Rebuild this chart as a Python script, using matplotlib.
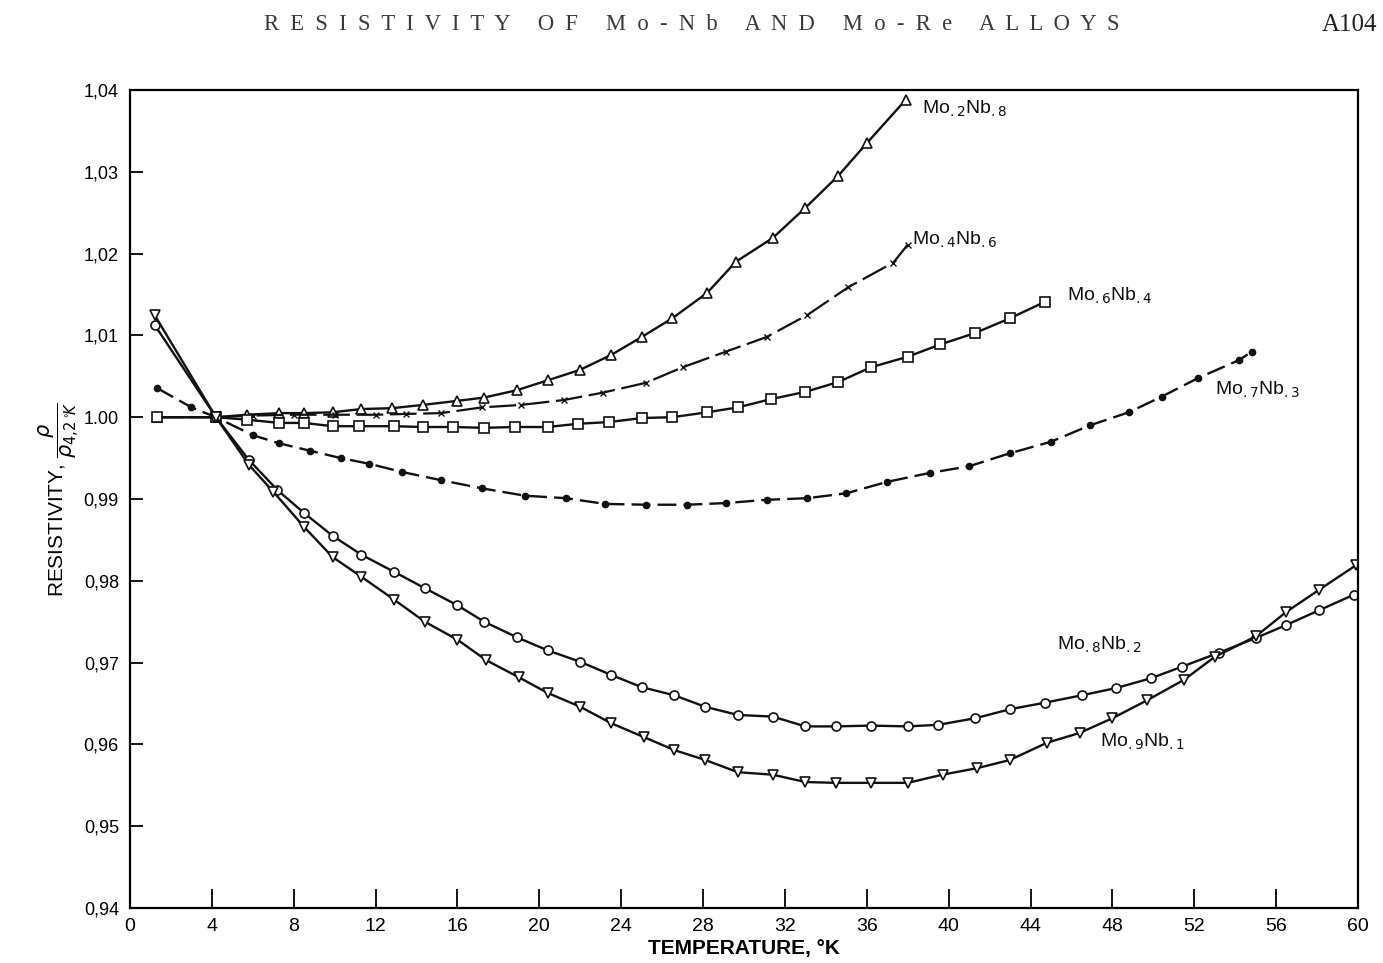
import matplotlib
matplotlib.use("Agg")
import matplotlib.pyplot as plt

plt.rcParams['font.family'] = ['Liberation Sans', 'DejaVu Sans']
plt.rcParams['mathtext.fontset'] = 'dejavusans'

# ---- data (T in K, rho / rho_4.2K) ----
T_28 = [1.3, 4.2, 5.7, 7.3, 8.5, 9.9, 11.3, 12.8, 14.3, 16.0, 17.3, 18.9, 20.4, 22.0,
        23.5, 25.0, 26.5, 28.2, 29.6, 31.4, 33.0, 34.6, 36.0, 37.9]
R_28 = [1.0000, 1.0000, 1.0003, 1.0005, 1.0005, 1.0006, 1.0010, 1.0011, 1.0015, 1.0020,
        1.0024, 1.0033, 1.0045, 1.0058, 1.0076, 1.0098, 1.0121, 1.0152, 1.0190, 1.0219,
        1.0256, 1.0295, 1.0335, 1.0388]

T_46 = [1.3, 4.2, 6.0, 8.0, 10.0, 12.0, 13.5, 15.2, 17.2, 19.1, 21.2, 23.1, 25.2, 27.0,
        29.1, 31.1, 33.1, 35.1, 37.3, 38.0]
R_46 = [1.0000, 1.0000, 1.0002, 1.0003, 1.0003, 1.0003, 1.0004, 1.0005, 1.0012, 1.0015,
        1.0021, 1.0030, 1.0042, 1.0061, 1.0080, 1.0098, 1.0125, 1.0159, 1.0189, 1.0211]

T_64 = [1.3, 4.2, 5.7, 7.3, 8.5, 9.9, 11.2, 12.9, 14.3, 15.8, 17.3, 18.8, 20.4, 21.9,
        23.4, 25.0, 26.5, 28.2, 29.7, 31.3, 33.0, 34.6, 36.2, 38.0, 39.6, 41.3, 43.0, 44.7]
R_64 = [1.0000, 1.0000, 0.9997, 0.9993, 0.9993, 0.9989, 0.9989, 0.9989, 0.9988, 0.9988,
        0.9987, 0.9988, 0.9988, 0.9992, 0.9994, 0.9999, 1.0000, 1.0006, 1.0012, 1.0022,
        1.0031, 1.0043, 1.0061, 1.0074, 1.0089, 1.0103, 1.0121, 1.0141]

T_73 = [1.3, 3.0, 4.2, 6.0, 7.3, 8.8, 10.3, 11.7, 13.3, 15.2, 17.2, 19.3, 21.3, 23.2,
        25.2, 27.2, 29.1, 31.1, 33.1, 35.0, 37.0, 39.1, 41.0, 43.0, 45.0, 46.9, 48.8,
        50.4, 52.2, 54.2, 54.8]
R_73 = [1.0036, 1.0012, 1.0000, 0.9978, 0.9968, 0.9959, 0.9950, 0.9943, 0.9933, 0.9923,
        0.9913, 0.9904, 0.9901, 0.9894, 0.9893, 0.9893, 0.9895, 0.9899, 0.9901, 0.9907,
        0.9921, 0.9932, 0.9940, 0.9956, 0.9970, 0.9990, 1.0006, 1.0025, 1.0048, 1.0070,
        1.0080]

T_82 = [1.2, 4.2, 5.8, 7.2, 8.5, 9.9, 11.3, 12.9, 14.4, 16.0, 17.3, 18.9, 20.4, 22.0,
        23.5, 25.0, 26.6, 28.1, 29.7, 31.4, 33.0, 34.5, 36.2, 38.0, 39.5, 41.3, 43.0,
        44.7, 46.5, 48.2, 49.9, 51.4, 53.2, 55.0, 56.5, 58.1, 59.8]
R_82 = [1.0113, 1.0000, 0.9948, 0.9911, 0.9883, 0.9855, 0.9832, 0.9811, 0.9791, 0.9770,
        0.9750, 0.9731, 0.9715, 0.9701, 0.9685, 0.9670, 0.9660, 0.9646, 0.9636, 0.9634,
        0.9622, 0.9622, 0.9623, 0.9622, 0.9624, 0.9632, 0.9643, 0.9651, 0.9660, 0.9669,
        0.9681, 0.9695, 0.9712, 0.9730, 0.9746, 0.9764, 0.9783]

T_91 = [1.2, 4.2, 5.8, 7.0, 8.5, 9.9, 11.3, 12.9, 14.4, 16.0, 17.4, 19.0, 20.4, 22.0,
        23.5, 25.1, 26.6, 28.1, 29.7, 31.4, 33.0, 34.5, 36.2, 38.0, 39.7, 41.4, 43.0,
        44.8, 46.4, 48.0, 49.7, 51.5, 53.0, 55.0, 56.5, 58.1, 59.9]
R_91 = [1.0125, 1.0000, 0.9942, 0.9909, 0.9866, 0.9829, 0.9805, 0.9777, 0.9750, 0.9728,
        0.9703, 0.9682, 0.9663, 0.9646, 0.9626, 0.9609, 0.9593, 0.9581, 0.9566, 0.9563,
        0.9554, 0.9553, 0.9553, 0.9553, 0.9563, 0.9571, 0.9581, 0.9602, 0.9614, 0.9632,
        0.9654, 0.9679, 0.9707, 0.9732, 0.9762, 0.9789, 0.9819]

labels = [r'Mo$_{.2}$Nb$_{.8}$', r'Mo$_{.4}$Nb$_{.6}$', r'Mo$_{.6}$Nb$_{.4}$',
          r'Mo$_{.7}$Nb$_{.3}$', r'Mo$_{.8}$Nb$_{.2}$', r'Mo$_{.9}$Nb$_{.1}$']
label_T = [38.7, 38.2, 45.8, 53.0, 45.3, 47.4]
label_R = [1.0377, 1.0217, 1.0148, 1.0033, 0.9722, 0.9603]

x_ticks = [0, 4, 8, 12, 16, 20, 24, 28, 32, 36, 40, 44, 48, 52, 56, 60]
y_ticks = [0.94, 0.95, 0.96, 0.97, 0.98, 0.99, 1.00, 1.01, 1.02, 1.03, 1.04]
y_tick_labels = ['0,94', '0,95', '0,96', '0,97', '0,98', '0,99', '1.00', '1,01', '1,02', '1,03', '1,04']

fig = plt.figure(figsize=(13.83, 9.63), dpi=100)
ax = fig.add_axes([130/1383, 1 - 908/963, 1228/1383, 818/963])

k = '#111111'
ax.plot(T_28, R_28, color=k, lw=1.7, marker='^', ms=7, mfc='white', mec=k, mew=1.2)
ax.plot(T_46, R_46, color=k, lw=1.6, ls=(0, (12, 3)), marker='x', ms=5, mec=k, mew=1.0)
ax.plot(T_64, R_64, color=k, lw=1.7, marker='s', ms=6.5, mfc='white', mec=k, mew=1.2)
ax.plot(T_73, R_73, color=k, lw=1.7, ls=(0, (8, 3)), marker='o', ms=4.5, mfc=k, mec=k)
ax.plot(T_82, R_82, color=k, lw=1.7, marker='o', ms=6.5, mfc='white', mec=k, mew=1.2)
ax.plot(T_91, R_91, color=k, lw=1.7, marker='v', ms=7, mfc='white', mec=k, mew=1.2)

for lab, tx, ty in zip(labels, label_T, label_R):
    ax.text(tx, ty, lab, fontsize=14, ha='left', va='center', color='#111111')

ax.set_xlim(0, 60)
ax.set_ylim(0.94, 1.04)
ax.set_xticks(x_ticks)
ax.set_xticklabels([str(v) for v in x_ticks], fontsize=14)
ax.set_yticks(y_ticks)
ax.set_yticklabels(y_tick_labels, fontsize=13)
ax.tick_params(axis='x', direction='in', length=14, width=1.3, pad=7, top=False)
ax.tick_params(axis='y', direction='in', length=9, width=1.3, pad=8, right=False)
for s in ax.spines.values():
    s.set_linewidth(1.6)

ax.set_xlabel('TEMPERATURE, °K', fontsize=15, fontweight='bold', labelpad=3)
ax.set_ylabel(r'RESISTIVITY, $\dfrac{\rho}{\rho_{4{,}2\,^{\circ}\!K}}$', fontsize=15, labelpad=2)

fig.text(692/1383, 1 - 25/963,
         'R  E  S  I  S  T  I  V  I  T  Y     O  F     M  o  -  N  b     A  N  D     M  o  -  R  e     A  L  L  O  Y  S',
         family=['Liberation Serif', 'DejaVu Serif'], fontsize=16.3, ha='center', va='center',
         color='#3a3a3a')
fig.text(1377/1383, 1 - 25/963, 'A104', family=['Liberation Serif', 'DejaVu Serif'],
         fontsize=18, ha='right', va='center', color='#222222')

fig.savefig('out.png', dpi=100)
